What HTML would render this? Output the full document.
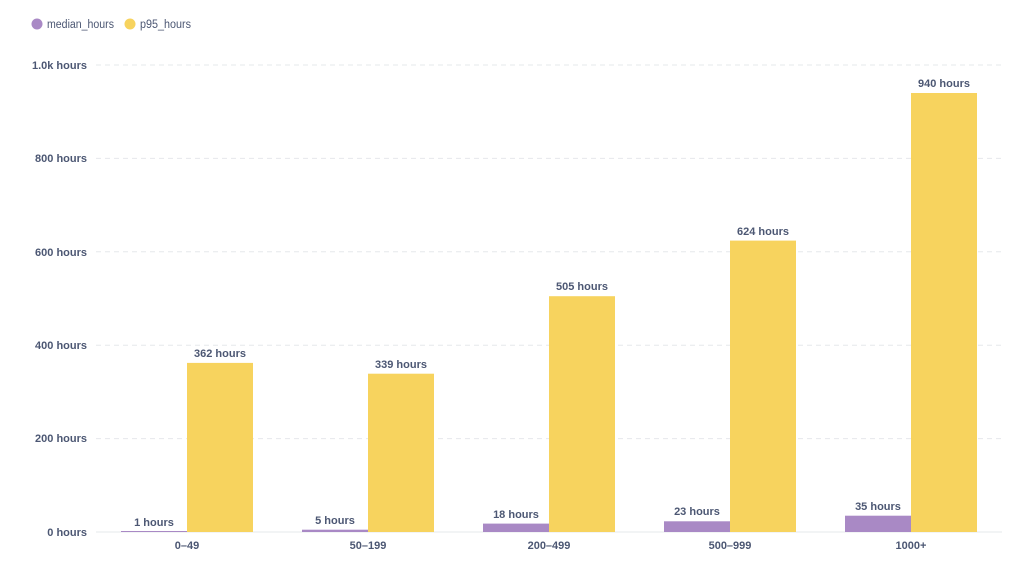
<!DOCTYPE html>
<html><head><style>
body{margin:0;background:#fff;font-family:"Liberation Sans",sans-serif;}
</style></head><body>
<svg width="1024" height="574" xmlns="http://www.w3.org/2000/svg" font-family="Liberation Sans, sans-serif">
<circle cx="37" cy="24" r="5.5" fill="#A989C5"/>
<text x="47" y="28" font-size="11.5" fill="#4C5773" textLength="67" lengthAdjust="spacingAndGlyphs">median_hours</text>
<circle cx="130" cy="24" r="5.5" fill="#F7D35E"/>
<text x="140" y="28" font-size="11.5" fill="#4C5773" textLength="51" lengthAdjust="spacingAndGlyphs">p95_hours</text>
<g stroke="#E6E8EB" stroke-dasharray="5,4" stroke-width="1">
<line x1="96" x2="1002" y1="65" y2="65"/>
<line x1="96" x2="1002" y1="158.4" y2="158.4"/>
<line x1="96" x2="1002" y1="251.8" y2="251.8"/>
<line x1="96" x2="1002" y1="345.2" y2="345.2"/>
<line x1="96" x2="1002" y1="438.6" y2="438.6"/>
</g>
<line x1="96" x2="1002" y1="532" y2="532" stroke="#E6E8EB"/>
<g font-size="11" font-weight="bold" fill="#4C5773" text-anchor="end">
<text x="87" y="69">1.0k hours</text>
<text x="87" y="162">800 hours</text>
<text x="87" y="256">600 hours</text>
<text x="87" y="349">400 hours</text>
<text x="87" y="442">200 hours</text>
<text x="87" y="536">0 hours</text>
</g>
<g fill="#A989C5">
<rect x="121" y="531" width="66" height="1"/>
<rect x="302" y="529.7" width="66" height="2.3"/>
<rect x="483" y="523.6" width="66" height="8.4"/>
<rect x="664" y="521.3" width="66" height="10.7"/>
<rect x="845" y="515.7" width="66" height="16.3"/>
</g>
<g fill="#F7D35E">
<rect x="187" y="362.9" width="66" height="169.1"/>
<rect x="368" y="373.7" width="66" height="158.3"/>
<rect x="549" y="296.2" width="66" height="235.8"/>
<rect x="730" y="240.6" width="66" height="291.4"/>
<rect x="911" y="93" width="66" height="439"/>
</g>
<g font-size="11" font-weight="bold" fill="#4C5773" text-anchor="middle">
<text x="154" y="526">1 hours</text>
<text x="335" y="524">5 hours</text>
<text x="516" y="518">18 hours</text>
<text x="697" y="515">23 hours</text>
<text x="878" y="510">35 hours</text>
<text x="220" y="357">362 hours</text>
<text x="401" y="368">339 hours</text>
<text x="582" y="290">505 hours</text>
<text x="763" y="235">624 hours</text>
<text x="944" y="87">940 hours</text>
<text x="187" y="549">0–49</text>
<text x="368" y="549">50–199</text>
<text x="549" y="549">200–499</text>
<text x="730" y="549">500–999</text>
<text x="911" y="549">1000+</text>
</g>
</svg>
</body></html>
